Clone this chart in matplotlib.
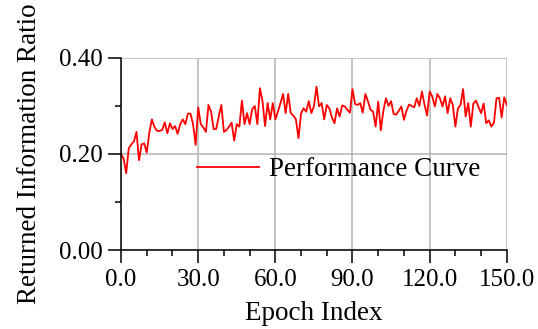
import numpy as np
import matplotlib
matplotlib.use("Agg")
import matplotlib.pyplot as plt
from matplotlib.ticker import MultipleLocator, FormatStrFormatter

# values, one per epoch (0..150)
epochs = np.arange(0, 151)
ratio = [
    0.200, 0.190, 0.160, 0.212, 0.220, 0.226, 0.246, 0.187, 0.220, 0.222,
    0.203, 0.245, 0.272, 0.256, 0.248, 0.248, 0.250, 0.266, 0.243, 0.264,
    0.252, 0.258, 0.242, 0.262, 0.272, 0.262, 0.284, 0.284, 0.262, 0.219,
    0.297, 0.262, 0.255, 0.246, 0.302, 0.288, 0.252, 0.252, 0.278, 0.302,
    0.246, 0.250, 0.257, 0.265, 0.228, 0.262, 0.257, 0.311, 0.262, 0.285,
    0.262, 0.293, 0.300, 0.262, 0.337, 0.310, 0.258, 0.306, 0.272, 0.306,
    0.272, 0.288, 0.306, 0.325, 0.285, 0.325, 0.285, 0.280, 0.272, 0.233,
    0.285, 0.295, 0.288, 0.310, 0.285, 0.299, 0.340, 0.299, 0.306, 0.272,
    0.302, 0.295, 0.276, 0.264, 0.295, 0.278, 0.301, 0.299, 0.292, 0.286,
    0.335, 0.304, 0.302, 0.306, 0.286, 0.325, 0.310, 0.292, 0.288, 0.257,
    0.309, 0.249, 0.290, 0.316, 0.300, 0.310, 0.283, 0.282, 0.290, 0.299,
    0.271, 0.290, 0.303, 0.300, 0.297, 0.316, 0.300, 0.330, 0.303, 0.280,
    0.330, 0.320, 0.299, 0.325, 0.316, 0.299, 0.320, 0.285, 0.316, 0.302,
    0.257, 0.295, 0.302, 0.335, 0.278, 0.306, 0.257, 0.305, 0.311, 0.298,
    0.285, 0.305, 0.264, 0.270, 0.257, 0.265, 0.316, 0.317, 0.276, 0.318,
    0.302,
]

plt.rcParams["font.family"] = ["Liberation Serif", "DejaVu Serif"]
plt.rcParams["font.size"] = 18

fig = plt.figure(figsize=(5.38, 3.29), dpi=100)
ax = fig.add_axes([0.225, 0.240, 0.717, 0.584])

ax.plot(epochs, ratio, color="#ff0000", lw=1.3, label="Performance Curve")

ax.set_xlim(0, 150)
ax.set_ylim(0, 0.40)
ax.xaxis.set_major_locator(MultipleLocator(30))
ax.xaxis.set_minor_locator(MultipleLocator(10))
ax.yaxis.set_major_locator(MultipleLocator(0.2))
ax.yaxis.set_minor_locator(MultipleLocator(0.1))
ax.xaxis.set_major_formatter(FormatStrFormatter("%.1f"))
ax.yaxis.set_major_formatter(FormatStrFormatter("%.2f"))

ax.grid(True, which="major", color="#b4b4b4", lw=1.1)
ax.set_axisbelow(True)
for side in ("top", "right"):
    ax.spines[side].set_visible(False)
for side in ("left", "bottom"):
    ax.spines[side].set_linewidth(1.1)

ax.tick_params(which="major", direction="out", length=9.5, width=1.1, pad=4,
               labelsize=18)
ax.tick_params(which="minor", direction="out", length=4, width=1.1)

ax.set_xlabel("Epoch Index", fontsize=19.5, labelpad=7)
ax.set_ylabel("Returned Information Ratio", fontsize=19.5, labelpad=12)

ax.legend(loc="center left", bbox_to_anchor=(0.197, 0.417), frameon=False,
          fontsize=19.5, borderaxespad=0, borderpad=0, handlelength=2.3,
          handletextpad=0.35)

fig.savefig("out.png", dpi=100)
